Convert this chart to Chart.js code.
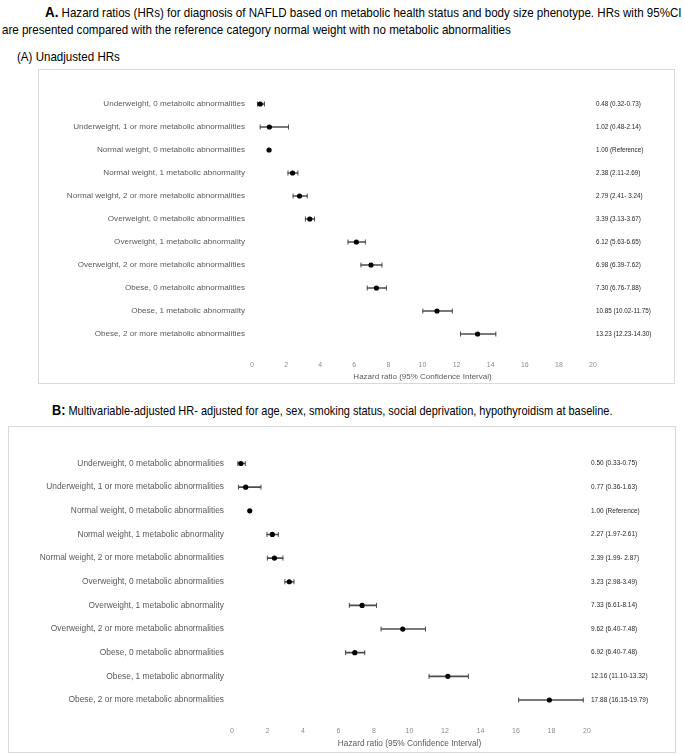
<!DOCTYPE html>
<html>
<head>
<meta charset="utf-8">
<script src="https://cdn.jsdelivr.net/npm/chart.js@4.4.0/dist/chart.umd.min.js"></script>
<style>
  body { margin: 0; background: #fff; width: 685px; height: 754px; position: relative; overflow: hidden; font-family: 'Liberation Sans', Arial, sans-serif; }
  .t { position: absolute; white-space: nowrap; color: #000; font-size: 13px; transform: scaleX(0.89); transform-origin: 0 0; }
  .box { position: absolute; border: 1px solid #d9d9d9; }
  .box canvas { position: absolute; left: 0; top: 0; }
</style>
</head>
<body>
<div class="t" style="left:45px;top:3px"><b style="font-size:15px">A.</b> Hazard ratios (HRs) for diagnosis of NAFLD based on metabolic health status and body size phenotype. HRs with 95%CI</div>
<div class="t" style="left:2px;top:22px">are presented compared with the reference category normal weight with no metabolic abnormalities</div>
<div class="t" style="left:17px;top:49px">(A) Unadjusted HRs</div>
<div class="box" style="left:38px;top:69px;width:635px;height:313px"><canvas id="chartA" width="635" height="313"></canvas></div>
<div class="t" style="left:52px;top:401px;transform:scaleX(0.845)"><b style="font-size:15px">B:</b> Multivariable-adjusted HR- adjusted for age, sex, smoking status, social deprivation, hypothyroidism at baseline.</div>
<div class="box" style="left:8px;top:426px;width:666px;height:325px"><canvas id="chartB" width="666" height="325"></canvas></div>

<script>
// categories (same rows in both panels)
const rowLabels = [
  "Underweight, 0 metabolic abnormalities",
  "Underweight, 1 or more metabolic abnormalities",
  "Normal weight, 0 metabolic abnormalities",
  "Normal weight, 1 metabolic abnormality",
  "Normal weight, 2 or more metabolic abnormalities",
  "Overweight, 0 metabolic abnormalities",
  "Overweight, 1 metabolic abnormality",
  "Overweight, 2 or more metabolic abnormalities",
  "Obese, 0 metabolic abnormalities",
  "Obese, 1 metabolic abnormality",
  "Obese, 2 or more metabolic abnormalities"
];
const xTicks = [0, 2, 4, 6, 8, 10, 12, 14, 16, 18, 20];

// (A) unadjusted
const hrA = [0.48, 1.02, 1.00, 2.38, 2.79, 3.39, 6.12, 6.98, 7.30, 10.85, 13.23];
const loA = [0.32, 0.48, null, 2.11, 2.41, 3.13, 5.63, 6.39, 6.76, 10.02, 12.23];
const hiA = [0.73, 2.14, null, 2.69, 3.24, 3.67, 6.65, 7.62, 7.88, 11.75, 14.30];
const annotA = ["0.48 (0.32-0.73)", "1.02 (0.48-2.14)", "1.00 (Reference)", "2.38 (2.11-2.69)",
  "2.79 (2.41- 3.24)", "3.39 (3.13-3.67)", "6.12 (5.63-6.65)", "6.98 (6.39-7.62)",
  "7.30 (6.76-7.88)", "10.85 (10.02-11.75)", "13.23 (12.23-14.30)"];

// (B) multivariable-adjusted (bars as drawn in the figure)
const hrB = [0.50, 0.77, 1.00, 2.27, 2.39, 3.23, 7.33, 9.62, 6.92, 12.16, 17.88];
const loB = [0.33, 0.36, null, 1.97, 1.99, 2.98, 6.61, 8.40, 6.40, 11.10, 16.15];
const hiB = [0.75, 1.63, null, 2.61, 2.87, 3.49, 8.14, 10.90, 7.48, 13.32, 19.79];
const annotB = ["0.50 (0.33-0.75)", "0.77 (0.36-1.63)", "1.00 (Reference)", "2.27 (1.97-2.61)",
  "2.39 (1.99- 2.87)", "3.23 (2.98-3.49)", "7.33 (6.61-8.14)", "9.62 (6.40-7.48)",
  "6.92 (6.40-7.48)", "12.16 (11.10-13.32)", "17.88 (16.15-19.79)"];

const LINE = "#4d4d4d";
const SANS = "'Liberation Sans', Arial, sans-serif";
const noGrid = { display: false, drawTicks: false };

function makeForest(id, hr, lo, hi, annot, g) {
  const ctx = document.getElementById(id).getContext("2d");
  return new Chart(ctx, {
    type: "bar",
    data: {
      labels: rowLabels,
      datasets: [
        { type: "line", indexAxis: "y", data: hr, showLine: false,
          pointStyle: "circle", pointRadius: 2.6, pointBackgroundColor: "#000", pointBorderWidth: 0 },
        { type: "line", indexAxis: "y", data: lo, showLine: false,
          pointStyle: "line", rotation: 90, pointRadius: 2.5, pointBorderWidth: 1, pointBorderColor: LINE },
        { type: "line", indexAxis: "y", data: hi, showLine: false,
          pointStyle: "line", rotation: 90, pointRadius: 2.5, pointBorderWidth: 1, pointBorderColor: LINE },
        { type: "bar", indexAxis: "y", data: lo.map((l, i) => l == null ? null : [l, hi[i]]),
          backgroundColor: LINE, borderWidth: 0, barThickness: 1 }
      ]
    },
    options: {
      indexAxis: "y",
      responsive: false,
      animation: false,
      devicePixelRatio: 1,
      layout: { padding: { top: g.top } },
      plugins: { legend: { display: false }, tooltip: { enabled: false } },
      scales: {
        x: {
          type: "linear", min: 0, max: 20,
          afterBuildTicks: s => { s.ticks = xTicks.map(v => ({ value: v })); },
          grid: noGrid, border: { display: false },
          ticks: { color: "#8c8c8c", font: { family: SANS, size: 7 }, padding: g.tickPad, maxRotation: 0 },
          title: { display: true, text: "Hazard ratio (95% Confidence Interval)", color: "#595959",
                   font: { family: SANS, size: g.titleSize }, padding: { top: 0, bottom: g.titleBottom } },
          afterFit: s => { s.height = g.xh; }
        },
        y: {
          type: "category", offset: true,
          grid: noGrid, border: { display: false },
          ticks: { color: "#595959", font: { family: SANS, size: g.labelSize }, padding: g.labelPad, autoSkip: false },
          afterFit: s => { s.width = g.left; }
        },
        yR: {
          type: "category", position: "right", offset: true, labels: annot,
          grid: noGrid, border: { display: false },
          ticks: { color: "#262626", font: { family: SANS, size: g.annotSize }, padding: g.annotPad, autoSkip: false },
          afterFit: s => { s.width = g.right; }
        }
      }
    }
  });
}

makeForest("chartA", hrA, loA, hiA, annotA,
  { top: 22.5, xh: 37.5, left: 213, right: 81, tickPad: 15.3, titleBottom: 1, titleSize: 8,
    labelSize: 8.1, labelPad: 7, annotSize: 6.3, annotPad: 3 });
makeForest("chartB", hrB, loB, hiB, annotB,
  { top: 24.7, xh: 40.2, left: 223, right: 88, tickPad: 15, titleBottom: 3, titleSize: 8.3,
    labelSize: 8.4, labelPad: 8, annotSize: 6.5, annotPad: 4 });
</script>
</body>
</html>
